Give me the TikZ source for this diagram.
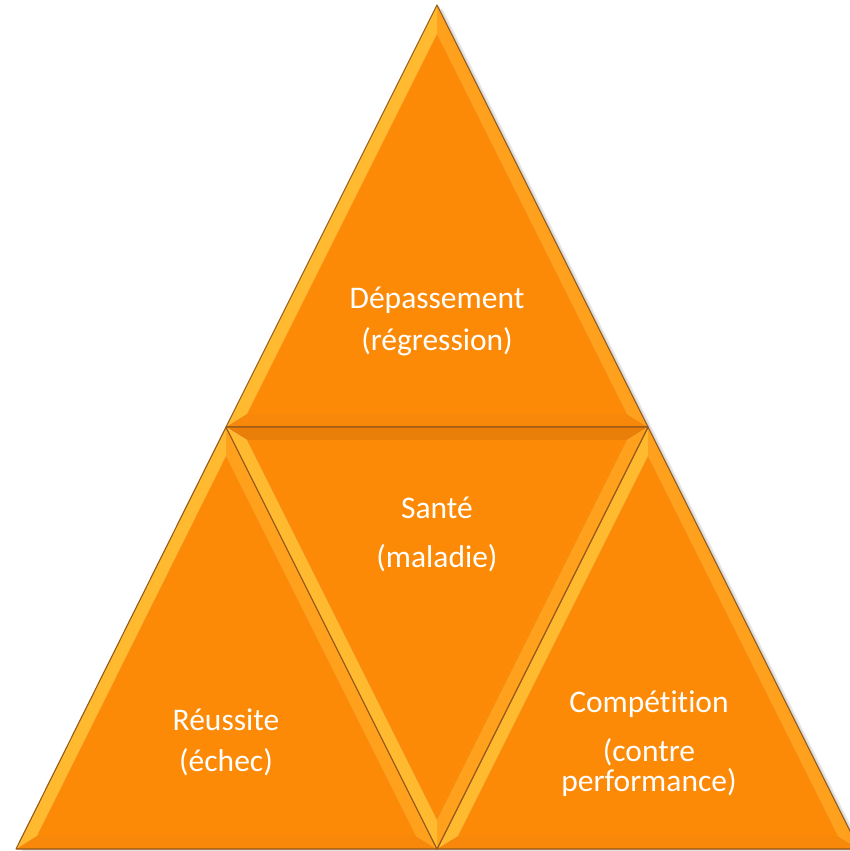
\documentclass[tikz,border=0pt]{standalone}
\usepackage{fontspec}
\setmainfont{Carlito}[Ligatures={NoCommon,NoRare,NoContextual}]
\usetikzlibrary{calc}

\definecolor{orfill}{HTML}{FC8A06}
\definecolor{orlight}{HTML}{FFBA30}
\definecolor{orside}{HTML}{FFA11C}
\definecolor{orbase}{HTML}{F7880A}
\definecolor{ordark}{HTML}{E97F08}
\definecolor{orrim}{HTML}{96581A}

% bevelled triangle: incentre, three corners, colours of the three bands
\newcommand{\bevtri}[7]{%
  \fill[#5] (#2) -- (#3) -- ($(#1)!0.9!(#3)$) -- ($(#1)!0.9!(#2)$) -- cycle;
  \fill[#6] (#3) -- (#4) -- ($(#1)!0.9!(#4)$) -- ($(#1)!0.9!(#3)$) -- cycle;
  \fill[#7] (#4) -- (#2) -- ($(#1)!0.9!(#2)$) -- ($(#1)!0.9!(#4)$) -- cycle;
  \fill[orfill] ($(#1)!0.9!(#2)$) -- ($(#1)!0.9!(#3)$) -- ($(#1)!0.9!(#4)$) -- cycle;
  \draw[rim] (#2) -- (#3) -- (#4) -- cycle;}

\begin{document}
\begin{tikzpicture}[x=1pt, y=-1pt,
  rim/.style={draw=orrim, line width=1.1pt, line join=round},
  lbl/.style={text=white, align=center, font=\fontsize{31.5}{30}\selectfont}]
\useasboundingbox (0,0) rectangle (850,851);
\coordinate (apex) at (437,5);
\coordinate (lmid) at (226,427);
\coordinate (rmid) at (648,427);
\coordinate (bl) at (16,849);
\coordinate (bm) at (437,849);
\coordinate (br) at (859,849);
\coordinate (itop) at (437,297);
\coordinate (ileft) at (226,719);
\coordinate (iright) at (648,719);
\coordinate (imid) at (437,557);

% soft shadow
\fill[black, opacity=.10] ([shift={(5,3)}]apex) -- ([shift={(5,3)}]br) -- ([shift={(5,3)}]bl) -- cycle;
\fill[black, opacity=.10] ([shift={(2,1)}]apex) -- ([shift={(2,1)}]br) -- ([shift={(2,1)}]bl) -- cycle;

\bevtri{itop}{apex}{lmid}{rmid}{orlight}{orbase}{orside}
\bevtri{ileft}{lmid}{bl}{bm}{orlight}{orbase}{orside}
\bevtri{iright}{rmid}{bm}{br}{orlight}{orbase}{orside}
\bevtri{imid}{lmid}{rmid}{bm}{ordark}{orside}{orlight}

\node[lbl] (depass) at (437,321) {Dépassement\\[12pt](régression)};
\node[lbl] (sante) at (437,534) {Santé\\[19pt](maladie)};
\node[lbl] (reuss) at (226,742) {Réussite\\[11pt](échec)};
\node[lbl] (compet) at (649,744) {Compétition\\[19pt](contre\\performance)};
\end{tikzpicture}
\end{document}
